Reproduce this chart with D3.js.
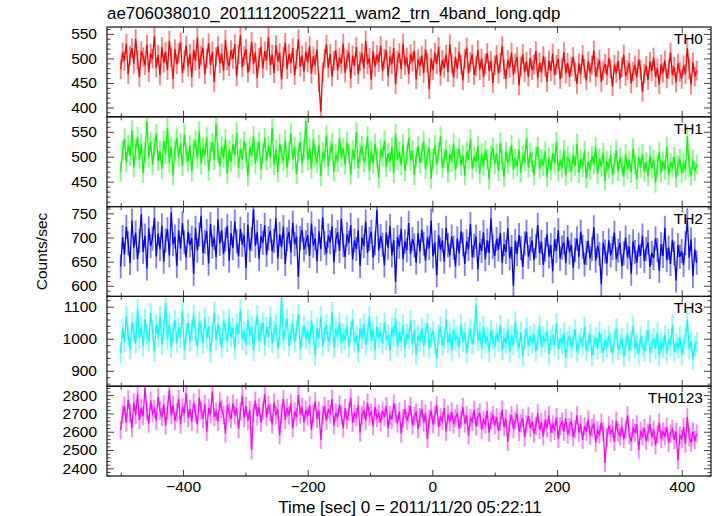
<!DOCTYPE html>
<html><head><meta charset="utf-8">
<script src="https://cdn.jsdelivr.net/npm/d3@7"></script>
<style>
body{margin:0;background:#fff}
svg{display:block}
text{font-family:"Liberation Sans",Arial,Helvetica,sans-serif;fill:#000}
</style>
</head><body>
<svg id="chart" width="717" height="516"></svg>
<script>
// ---- data (counts/sec per 3 s bin, read/estimated from the reference) ----
const th0 = [
478,512,495,530,468,505,521,489,540,497,462,515,503,486,528,472,510,499,545,481,
507,466,523,491,514,476,536,502,458,519,488,511,533,470,497,526,483,509,461,518,
495,542,479,506,522,468,500,531,487,514,452,503,525,490,510,475,538,496,484,517,
499,529,463,508,547,482,505,519,471,493,534,488,512,460,501,524,479,515,496,543,
486,508,470,527,494,511,457,503,532,478,509,490,521,466,498,539,483,506,473,514,
492,525,469,504,487,518,451,392,472,500,528,481,509,463,495,517,476,502,489,530,
471,498,512,459,506,485,523,468,494,510,479,536,488,501,456,515,483,507,492,526,
474,499,517,463,504,488,521,447,496,511,478,530,486,502,468,509,493,516,457,498,
484,506,470,519,491,437,500,476,512,488,523,465,497,481,508,472,529,490,461,503,
479,514,487,455,499,522,470,493,508,466,484,517,476,500,462,489,511,474,495,450,
486,507,469,492,525,478,458,497,481,512,467,490,503,445,484,509,472,494,463,501,
476,488,515,460,492,471,505,483,452,496,474,510,466,487,499,458,480,513,469,491,
462,484,503,473,448,490,468,507,479,455,494,471,486,516,463,481,497,452,475,489,
466,501,478,443,487,470,495,458,482,508,464,476,491,449,473,486,461,498,477,432,
469,485,456,493,474,502,462,480,447,488,471,496,459,478,512,466,483,451,490,473,
458,486,468,521,479,447,492,463,475];
const th1 = [
470,512,536,489,524,501,553,478,515,540,495,526,467,509,571,498,530,484,519,546,
492,511,475,532,505,558,488,520,463,514,537,499,527,481,545,508,490,523,470,516,
533,496,551,485,518,502,539,472,511,528,493,565,507,480,521,497,536,466,513,490,
525,503,548,477,516,494,531,508,460,519,501,542,486,512,529,474,506,538,491,522,
497,557,483,514,469,526,505,491,533,478,510,547,495,520,465,508,530,487,515,572,
493,518,476,535,502,488,524,461,509,496,543,481,512,527,470,505,490,537,499,517,
484,529,506,464,513,495,549,477,508,522,489,503,541,472,511,486,526,498,458,515,
500,532,479,507,490,519,467,546,494,510,483,525,471,504,538,492,512,463,499,521,
487,508,531,475,502,518,456,496,523,484,509,541,478,497,514,468,505,490,527,473,
498,516,482,503,462,511,494,535,476,500,489,522,466,507,481,513,495,454,502,519,
485,506,471,528,493,460,510,487,499,524,474,496,481,515,468,503,491,537,478,508,
489,463,501,520,476,495,482,511,459,498,473,507,486,530,470,493,478,514,462,500,
488,470,504,481,526,467,495,479,512,457,490,474,501,485,519,466,496,480,508,452,
491,476,503,464,486,513,471,497,482,460,505,475,492,468,517,484,455,499,478,506,
470,489,461,502,477,494,448,483,509,468,491,474,520,463,487,479,500,458,482,496,
467,488,473,541,480,462,494,471,484];
const th2 = [
640,701,665,722,688,647,735,679,710,655,693,748,670,704,636,719,682,698,741,661,
708,676,725,650,694,717,663,752,686,702,641,715,677,730,690,658,712,684,699,625,
720,673,706,745,668,691,713,646,728,681,700,659,737,687,715,666,696,724,652,709,
678,733,692,661,718,685,705,637,727,674,697,758,683,711,656,703,689,726,664,698,
714,671,693,740,657,707,680,722,645,696,712,669,731,686,702,618,699,716,675,690,
705,662,729,683,698,651,713,676,742,688,667,704,690,723,649,695,711,672,739,684,
660,707,689,726,654,694,676,715,641,700,682,733,668,697,712,658,688,757,673,703,
685,642,710,679,724,663,695,608,701,681,718,655,692,674,730,666,697,683,648,709,
671,716,687,652,700,678,735,661,690,622,705,675,694,650,720,684,663,702,679,640,
698,667,713,686,645,692,676,728,659,683,702,634,689,672,711,655,694,668,740,681,
662,697,675,709,648,686,670,719,657,680,600,693,666,705,678,639,688,712,660,677,
694,653,682,726,668,691,643,675,707,661,684,630,696,672,715,656,679,690,647,701,
669,685,637,674,698,660,712,681,644,668,693,657,676,721,652,683,666,603,689,671,
646,694,663,678,710,655,673,689,640,667,700,659,681,625,692,670,648,685,662,704,
651,676,690,639,668,657,698,674,631,686,662,720,653,679,645,695,667,611,684,660,
672,643,688,736,658,696,620,675,648];
const th3 = [
955,1032,990,1071,1008,968,1050,1019,985,1094,1002,1037,976,1061,1013,991,1080,1025,960,1044,
1006,1070,982,1029,1112,997,1046,973,1021,1058,988,1034,1003,1087,964,1016,1049,992,1027,1075,
1010,975,1053,1024,986,1066,1001,1038,957,1019,1082,995,1043,1012,971,1056,1028,990,1063,1005,
1033,969,1047,1015,1090,998,1022,981,1059,1007,1040,962,1026,1073,993,1018,1051,979,1036,1004,
1068,987,1023,1045,970,1011,1130,996,1031,1062,978,1014,1048,989,1027,1076,966,1009,1040,1000,
1025,983,1057,1013,948,1035,1002,1069,977,1020,1044,991,1011,1083,972,1030,1005,1052,985,1016,
997,1041,974,1023,1060,988,1009,958,1032,1001,1047,980,1014,1071,992,1026,965,1038,1003,1019,
984,1050,996,1012,962,1035,1007,1064,975,1021,993,1043,970,1015,1000,1057,982,1027,951,1010,
992,1033,976,1018,1048,968,1004,1024,985,940,1012,1037,979,1000,1061,987,1016,963,1029,997,
1008,972,1045,990,1019,956,1003,1031,982,1014,1105,994,1022,969,1039,988,1006,960,1026,998,
975,1017,991,1042,964,1002,985,1030,958,1011,980,1053,993,970,1021,945,999,1034,977,1008,
986,1015,961,997,1040,974,1006,989,1025,952,995,1012,978,1048,967,1001,983,1019,940,992,
1010,971,996,1029,959,984,1002,976,1037,963,990,1014,947,981,1005,968,1022,985,956,997,
973,1009,988,954,999,1032,966,982,1003,944,977,1016,961,993,1040,970,986,951,1007,979,
962,995,1026,957,983,1001,968,1019,946,988,973,1011,955,998,978,1043,960,985,970,1006,
950,981,1002,1060,968,992,935,976,990];
const th0123 = [
2610,2695,2740,2650,2775,2700,2620,2760,2690,2805,2665,2730,2685,2840,2710,2645,2770,2700,2725,2660,
2790,2715,2680,2750,2635,2720,2830,2690,2745,2660,2705,2780,2640,2735,2700,2810,2675,2725,2655,2760,
2700,2640,2785,2715,2670,2750,2600,2730,2695,2820,2680,2710,2655,2765,2725,2690,2590,2745,2705,2670,
2755,2690,2730,2615,2710,2795,2675,2740,2660,2720,2500,2700,2770,2685,2735,2650,2715,2805,2680,2745,
2705,2640,2760,2690,2725,2580,2700,2780,2665,2730,2690,2755,2620,2710,2680,2800,2695,2735,2650,2720,
2685,2745,2610,2700,2765,2670,2715,2555,2690,2740,2660,2725,2695,2780,2635,2705,2675,2750,2690,2620,
2730,2665,2710,2785,2650,2700,2680,2745,2595,2690,2720,2660,2760,2685,2705,2630,2735,2675,2700,2650,
2715,2680,2740,2620,2690,2665,2755,2700,2645,2710,2590,2675,2725,2660,2695,2740,2635,2685,2705,2615,
2680,2725,2650,2700,2560,2670,2715,2640,2690,2745,2625,2680,2660,2730,2600,2695,2655,2710,2640,2675,
2700,2620,2665,2735,2645,2690,2580,2675,2655,2720,2630,2680,2705,2610,2665,2640,2715,2595,2660,2690,
2635,2680,2605,2655,2720,2625,2670,2545,2650,2690,2615,2660,2700,2600,2645,2675,2570,2640,2685,2620,
2655,2590,2630,2700,2610,2650,2575,2665,2620,2690,2595,2640,2605,2680,2560,2630,2655,2600,2675,2585,
2625,2660,2570,2615,2690,2595,2640,2555,2630,2600,2665,2580,2620,2645,2540,2610,2585,2650,2600,2430,
2570,2635,2590,2615,2545,2660,2595,2575,2630,2560,2610,2690,2580,2545,2620,2595,2640,2500,2605,2575,
2620,2550,2595,2640,2570,2610,2525,2585,2650,2560,2600,2575,2625,2540,2590,2615,2555,2600,2445,2580,
2560,2625,2535,2680,2570,2540,2600,2555,2590];

const seriesNames  = ["TH0","TH1","TH2","TH3","TH0123"];
const seriesValues = [th0, th1, th2, th3, th0123];
const seriesColors = ["#ff0000","#00ff00","#0000ff","#00ffff","#ff00ff"];
const errBars      = [20, 20, 25, 32, 50];
const yDomains     = [[381,564],[400,580],[578,764],[852,1132],[2358,2849]];
const yMajorTicks  = [[400,450,500,550],[450,500,550],[600,650,700,750],[900,1000,1100],[2400,2500,2600,2700,2800]];
const yMinorStep   = [10,10,10,20,20];
const xDomain      = [-522, 447];
const xMajorTicks  = [-400,-200,0,200,400];
const xMinorTicks  = [-500,-300,-100,100,300];
const tStart = -500, binSize = 3;
const titleText = "ae706038010_20111120052211_wam2_trn_4band_long.qdp";
const xLabel = "Time [sec] 0 = 2011/11/20 05:22:11";
const yLabel = "Counts/sec";

// ---- layout ----
const svg = d3.select("#chart");
const mL = 107, mR = 711, mT = 27, mB = 476;
const nP = seriesNames.length;
const ph = (mB - mT) / nP;
const fs = "15.5px";

const x = d3.scaleLinear().domain(xDomain).range([mL, mR]);
const bw = x(binSize) - x(0);

svg.append("text").attr("x", mL).attr("y", 19).style("font-size","16.9px").text(titleText);

svg.append("defs").selectAll("clipPath").data(seriesNames).join("clipPath")
  .attr("id", (d,i) => "clip"+i)
  .append("rect").attr("x", mL).attr("width", mR-mL)
  .attr("y", (d,i) => mT + i*ph).attr("height", ph);

const fmtX = d => d < 0 ? "\u2212" + Math.abs(d) : String(d);
const fmtY = d => String(d);

seriesNames.forEach((name, i) => {
  const y0 = mT + i*ph, y1 = y0 + ph;
  const y = d3.scaleLinear().domain(yDomains[i]).range([y1, y0]);
  const vals = seriesValues[i];
  const pts = vals.map((v, k) => ({t: tStart + k*binSize, v}));
  const g = svg.append("g");
  const data = g.append("g").attr("clip-path", `url(#clip${i})`);

  data.append("g").selectAll("rect").data(pts).join("rect")
    .attr("x", d => x(d.t) - bw/2).attr("width", bw)
    .attr("y", d => y(d.v + errBars[i])).attr("height", d => y(d.v - errBars[i]) - y(d.v + errBars[i]))
    .attr("fill", seriesColors[i]).attr("fill-opacity", 0.5);

  data.append("path").datum(pts)
    .attr("d", d3.line().x(d => x(d.t)).y(d => y(d.v)))
    .attr("fill","none").attr("stroke", seriesColors[i]).attr("stroke-width", 1.3);

  const d0 = yDomains[i][0], d1 = yDomains[i][1], st = yMinorStep[i];
  const minor = d3.range(Math.ceil(d0/st)*st, d1, st).filter(v => !yMajorTicks[i].includes(v));

  const styleAxis = sel => {
    sel.select(".domain").remove();
    sel.selectAll(".tick line").attr("stroke", "#444").attr("stroke-width", 1);
    sel.selectAll("text").style("font-size", fs).attr("fill", "#000")
      .style("font-family", '"Liberation Sans",Arial,sans-serif');
  };

  g.append("g").attr("transform", `translate(${mL},0)`)
    .call(d3.axisLeft(y).tickValues(yMajorTicks[i]).tickSizeInner(-7).tickSizeOuter(0).tickPadding(10).tickFormat(fmtY))
    .call(styleAxis);
  g.append("g").attr("transform", `translate(${mL},0)`)
    .call(d3.axisLeft(y).tickValues(minor).tickSizeInner(-3.5).tickSizeOuter(0).tickFormat(""))
    .call(styleAxis);
  g.append("g").attr("transform", `translate(${mR},0)`)
    .call(d3.axisRight(y).tickValues(yMajorTicks[i]).tickSizeInner(-7).tickSizeOuter(0).tickFormat(""))
    .call(styleAxis);
  g.append("g").attr("transform", `translate(${mR},0)`)
    .call(d3.axisRight(y).tickValues(minor).tickSizeInner(-3.5).tickSizeOuter(0).tickFormat(""))
    .call(styleAxis);
  g.append("g").attr("transform", `translate(0,${y0})`)
    .call(d3.axisTop(x).tickValues(xMajorTicks).tickSizeInner(-6).tickSizeOuter(0).tickFormat(""))
    .call(styleAxis);
  g.append("g").attr("transform", `translate(0,${y0})`)
    .call(d3.axisTop(x).tickValues(xMinorTicks).tickSizeInner(-3.5).tickSizeOuter(0).tickFormat(""))
    .call(styleAxis);
  const last = i === nP - 1;
  g.append("g").attr("transform", `translate(0,${y1})`)
    .call(d3.axisBottom(x).tickValues(xMajorTicks).tickSizeInner(-6).tickSizeOuter(0)
      .tickPadding(5).tickFormat(last ? fmtX : ""))
    .call(styleAxis);
  g.append("g").attr("transform", `translate(0,${y1})`)
    .call(d3.axisBottom(x).tickValues(xMinorTicks).tickSizeInner(-3.5).tickSizeOuter(0).tickFormat(""))
    .call(styleAxis);

  g.append("rect").attr("x", mL).attr("y", y0).attr("width", mR-mL).attr("height", ph)
    .attr("fill","none").attr("stroke","#111").attr("stroke-width",1.2);

  g.append("text").attr("x", 703).attr("y", y0 + 17).attr("text-anchor","end")
    .style("font-size", fs).text(name);
});

svg.append("text").attr("x", 410).attr("y", 513).attr("text-anchor","middle")
  .style("font-size", "17px").text(xLabel);
svg.append("text").attr("transform", `translate(47,${(mT+mB)/2}) rotate(-90)`)
  .attr("text-anchor","middle").style("font-size", fs).text(yLabel);
</script>
</body></html>
